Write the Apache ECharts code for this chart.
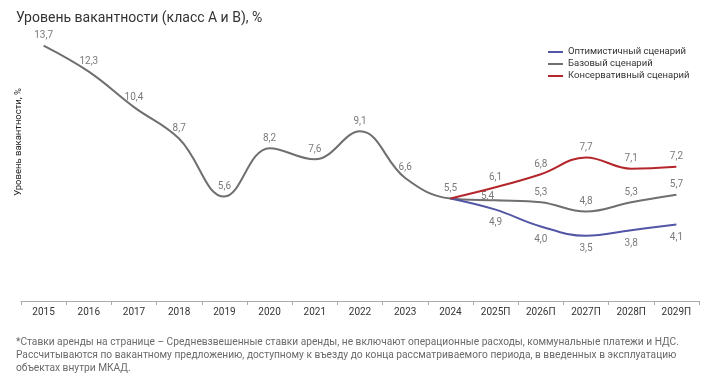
<!DOCTYPE html>
<html>
<head>
<meta charset="utf-8">
<script src="https://cdn.jsdelivr.net/npm/echarts@6/dist/echarts.min.js"></script>
<style>
  html, body { margin: 0; padding: 0; background: #fff; }
  #chart { width: 720px; height: 377px; }
</style>
</head>
<body>
<div id="chart"></div>
<script>
const years = ['2015', '2016', '2017', '2018', '2019', '2020', '2021', '2022', '2023', '2024', '2025П', '2026П', '2027П', '2028П', '2029П'];
const baseData = [13.7, 12.3, 10.4, 8.7, 5.6, 8.2, 7.6, 9.1, 6.6, 5.5, 5.4, 5.3, 4.8, 5.3, 5.7];
const optimisticData = [null, null, null, null, null, null, null, null, null, 5.5, 4.9, 4.0, 3.5, 3.8, 4.1];
const conservativeData = [null, null, null, null, null, null, null, null, null, 5.5, 6.1, 6.8, 7.7, 7.1, 7.2];

const fontFamily = 'Roboto, "Noto Sans", sans-serif';
const labelColor = '#7a7a7a';
const fmt = v => String(v.toFixed(1)).replace('.', ',');

const chart = echarts.init(document.getElementById('chart'));

// подписи: у прогнозных линий точку 2024 не подписываем
const labelFor = (pos, skipFirst, dist) => ({
  show: true,
  position: pos,
  distance: dist,
  color: labelColor,
  fontSize: 10,
  fontFamily: fontFamily,
  formatter: p => (p.value == null || (skipFirst && p.dataIndex === 9) ? '' : fmt(p.value)),
});

// подпись 2025П базового сценария в оригинале сидит почти на линии
const baseSeriesData = baseData.map((v, i) => (i === 10 ? { value: v, label: { offset: [-8, 6] } } : v));

const option = {
  animation: false,
  title: {
    text: 'Уровень вакантности (класс A и B), %',
    left: 11,
    top: 6,
    textStyle: { color: '#333', fontSize: 14, fontWeight: 'normal', fontFamily: fontFamily },
  },
  legend: {
    orient: 'vertical',
    left: 543,
    top: 42,
    itemGap: 2,
    itemWidth: 15,
    itemHeight: 10,
    icon: 'path://M0,4 L15,4 L15,6 L0,6 Z',
    textStyle: { color: '#333', fontSize: 9.5, fontFamily: fontFamily },
    data: ['Оптимистичный сценарий', 'Базовый сценарий', 'Консервативный сценарий'],
  },
  graphic: [
    {
      type: 'text',
      left: 14,
      top: 88,
      rotation: Math.PI / 2,
      style: { text: 'Уровень вакантности, %', fill: '#222', fontSize: 9.5, fontFamily: fontFamily },
    },
    {
      type: 'text',
      left: 16,
      top: 336,
      style: {
        text: '*Ставки аренды на странице – Средневзвешенные ставки аренды, не включают операционные расходы, коммунальные платежи и НДС.\n' +
          'Рассчитываются по вакантному предложению, доступному к въезду до конца рассматриваемого периода, в введенных в эксплуатацию\n' +
          'объектах внутри МКАД.',
        fill: '#6a6a6a',
        fontSize: 10.2,
        lineHeight: 13,
        fontFamily: fontFamily,
      },
    },
  ],
  grid: { left: 21, right: 21, top: 40, bottom: 76 },
  xAxis: {
    type: 'category',
    data: years,
    boundaryGap: true,
    axisLine: { lineStyle: { color: '#aaa' } },
    axisTick: { show: true, length: 4, lineStyle: { color: '#aaa' } },
    axisLabel: { color: '#333', fontSize: 10, margin: 6, fontFamily: fontFamily },
  },
  yAxis: {
    type: 'value',
    min: 0,
    max: 14,
    show: false,
  },
  series: [
    {
      name: 'Оптимистичный сценарий',
      type: 'line',
      smooth: 0.4,
      symbol: 'circle',
      symbolSize: 0,
      data: optimisticData,
      lineStyle: { color: '#5256a5', width: 2 },
      itemStyle: { color: '#5256a5' },
      label: labelFor('bottom', true, 8),
      z: 3,
    },
    {
      name: 'Базовый сценарий',
      type: 'line',
      smooth: 0.4,
      symbol: 'circle',
      symbolSize: 0,
      data: baseSeriesData,
      lineStyle: { color: '#6f6f6f', width: 2 },
      itemStyle: { color: '#6f6f6f' },
      label: labelFor('top', false, 5),
      z: 2,
    },
    {
      name: 'Консервативный сценарий',
      type: 'line',
      smooth: 0.4,
      symbol: 'circle',
      symbolSize: 0,
      data: conservativeData,
      lineStyle: { color: '#b5262c', width: 2 },
      itemStyle: { color: '#b5262c' },
      label: labelFor('top', true, 5),
      z: 4,
    },
  ],
};
chart.setOption(option);
</script>
</body>
</html>
